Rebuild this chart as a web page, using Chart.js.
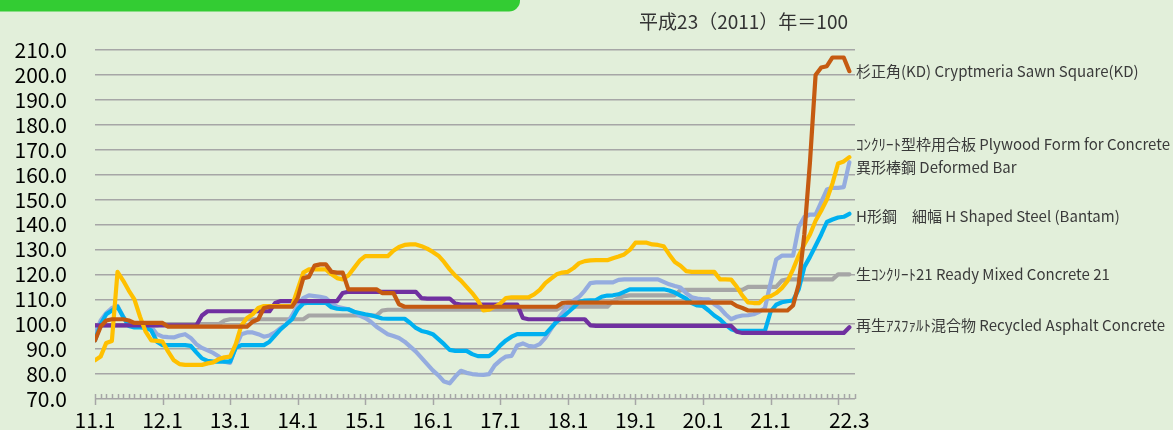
<!DOCTYPE html>
<html>
<head>
<meta charset="utf-8">
<script src="https://cdn.jsdelivr.net/npm/chart.js@4.4.0/dist/chart.umd.min.js"></script>
<style>
  html, body { margin: 0; padding: 0; background: #e2efda; }
  canvas { display: block; }
</style>
</head>
<body>
<canvas id="chart" width="1173" height="430"></canvas>
<script>
// monthly index, 2011.1 .. 2022.3 (平成23年=100)
const months = [];
for (let y = 11; y <= 22; y++) {
    for (let m = 1; m <= 12; m++) {
        if (y === 22 && m > 3) break;
        months.push(y + '.' + m);
    }
}

const tickLabels = ['11.1', '12.1', '13.1', '14.1', '15.1', '16.1', '17.1', '18.1', '19.1', '20.1', '21.1', '22.3'];

// 杉正角(KD)
const sugi = [
    93.5, 99, 101.5, 102, 102, 102, 101.5, 100.5, 100.5, 100.5, 100.5, 100.5,
    100.5, 99, 99, 99, 99, 99, 99, 99, 99, 99, 99, 99,
    99, 99, 99, 99, 101, 102, 106.5, 107, 107, 107, 107, 107,
    110.5, 118.5, 119, 123.5, 124, 124, 121, 120.7, 120.7, 114, 114, 114,
    114, 114, 114, 112.5, 112.5, 112.5, 108, 107, 107, 107, 107, 107,
    107, 107, 107, 107, 107, 107, 107, 107, 107, 107, 107, 107,
    107, 107, 107, 107, 107, 107, 107, 107, 107, 107, 107, 108.5,
    108.7, 108.7, 108.7, 108.7, 108.7, 108.7, 108.7, 108.7, 108.7, 108.7, 108.7, 108.7,
    108.7, 108.7, 108.7, 108.7, 108.7, 108.7, 108.7, 108.7, 108.7, 108.7, 108.7, 108.7,
    108.7, 108.7, 108.7, 108.7, 108.7, 108.7, 107.3, 106.5, 105.5, 105.5, 105.5, 105.5,
    105.5, 105.5, 105.5, 105.5, 107.5, 116, 136, 165, 200, 203, 203.5, 207,
    207, 207, 201.5
];

// コンクリート型枠用合板
const plywood = [
    96, 101.5, 104.5, 106.5, 107.3, 103, 99.5, 99.3, 99, 99, 99, 96,
    95, 94.8, 94.7, 95.5, 96, 94.5, 92, 90.5, 89.5, 88.5, 87, 85,
    84.5, 91, 96, 96.7, 96.7, 96, 95, 95.5, 96.7, 98.5, 100, 103.5,
    107.5, 110.5, 111.6, 111.3, 111, 110.5, 108.5, 107, 106.5, 106, 105, 103.5,
    102.5, 101, 99, 97.5, 96, 95.3, 94.5, 93, 91, 89, 86.5, 84,
    81.5, 79.5, 77, 76.3, 79, 81.3, 80.5, 80, 79.8, 79.7, 80, 83.5,
    85.5, 87, 87.3, 91.5, 92.3, 91.3, 91, 92, 94.5, 98, 101.5, 104.5,
    107.5, 109.5, 111, 113.5, 116.5, 116.8, 116.8, 116.8, 116.8, 117.8, 118, 118,
    118, 118, 118, 118, 118, 117, 116, 115.3, 114.7, 112.5, 110.8, 110.3,
    110, 110, 108, 106.5, 104, 102, 103, 103.5, 103.6, 104, 105, 106.5,
    116.5, 126, 127.5, 127.5, 127.5, 139, 143, 144, 144, 149, 154, 154.7,
    154.7, 155, 165
];

// 異形棒鋼
const rebar = [
    85.5, 87, 92.5, 93.3, 121, 117.5, 113.5, 110, 103, 97, 93.5, 93.3,
    93, 89, 85.5, 84, 83.7, 83.7, 83.7, 83.7, 84.3, 84.7, 86, 86.7,
    87, 92, 99.5, 102.5, 104, 106.5, 107.3, 107.3, 107.3, 107.3, 107.3, 107.3,
    114, 120.7, 122, 122, 122, 122, 120, 118.5, 118, 119.5, 122.5, 125.5,
    127.3, 127.3, 127.3, 127.3, 127.3, 129.5, 131, 131.8, 132, 132, 131.3, 130.3,
    129, 127.5, 125, 122, 119.5, 117.5, 115, 112.5, 109.5, 105.5, 105.8, 107,
    108.3, 110.5, 110.8, 110.8, 110.8, 110.8, 112, 113.8, 116.5, 118.3, 120, 120.7,
    121, 122.5, 124.5, 125.3, 125.6, 125.7, 125.7, 125.7, 126.5, 127.2, 128, 129.8,
    132.7, 132.7, 132.7, 132, 131.8, 131.3, 128, 125, 123.5, 121.3, 121, 121,
    121, 121, 121, 118, 118, 117.9, 115, 111.5, 108.7, 108.5, 108.5, 110.7,
    111.2, 112.5, 114.5, 117.3, 122, 127.5, 132, 136, 141.5, 145.5, 150, 156.5,
    164.5, 165.3, 167
];

// H形鋼 細幅
const hSteel = [
    93.5, 100, 104, 105.5, 107, 103, 99.3, 98.7, 98.7, 98.5, 97.5, 93,
    91.6, 91.6, 91.6, 91.6, 91.6, 91.3, 88.7, 86.3, 85.3, 85, 85, 85,
    85, 90.5, 91.6, 91.6, 91.6, 91.6, 91.6, 93, 95.5, 98, 100, 102,
    106, 108.3, 108.6, 108.6, 108.6, 108.6, 106.8, 106.2, 106, 106, 105, 104.5,
    104, 103.6, 103, 102.3, 102.2, 102.2, 102.2, 102.2, 100.5, 98.5, 97.3, 96.8,
    96, 94, 92, 89.7, 89.3, 89.3, 89.3, 88, 87.2, 87.2, 87.2, 89,
    91.5, 93.5, 95, 96, 96, 96, 96, 96, 96, 98.5, 101, 102.7,
    104.7, 106.7, 109, 109.5, 109.6, 109.7, 111, 111.5, 111.6, 112, 113, 114,
    114, 114, 114, 114, 114, 114, 113.5, 112.7, 111.5, 110.3, 108.5, 107.5,
    107.3, 105.5, 103.5, 102, 99.8, 98, 97.3, 97.3, 97.3, 97.3, 97.3, 97.3,
    105, 107.8, 108.8, 109.2, 109.5, 114, 123, 127, 131.5, 136, 141, 142,
    142.8, 143.1, 144.3
];

// 生コンクリート21
const readyMixed = [
    99.5, 99.5, 99.5, 99.5, 99.5, 99.5, 99.5, 99.5, 99.5, 99.5, 99.5, 99.5,
    100, 100, 100, 100, 100, 100, 100, 100, 100, 100, 100, 101.5,
    102, 102, 102, 102, 102, 102, 102, 102, 102, 102, 102, 102,
    102, 102, 103.5, 103.5, 103.5, 103.5, 103.5, 103.5, 103.5, 103.5, 103.5, 103.5,
    103.5, 103.5, 103.5, 105.5, 105.8, 105.8, 105.8, 105.8, 105.8, 105.8, 105.8, 105.8,
    105.8, 105.8, 105.8, 105.8, 105.8, 105.8, 105.8, 105.8, 105.8, 105.8, 105.8, 105.8,
    105.8, 105.8, 105.8, 105.8, 105.8, 105.8, 105.8, 105.8, 105.8, 105.8, 105.8, 107,
    107, 107, 107, 107, 107, 107, 107, 107, 109.3, 110.5, 111.3, 111.6,
    111.6, 111.6, 111.6, 111.6, 111.6, 111.6, 111.6, 111.6, 113.7, 113.8, 113.8, 113.8,
    113.8, 113.8, 113.8, 113.8, 113.8, 113.8, 113.8, 113.8, 115, 115, 115, 115,
    115, 115, 117.5, 118, 118, 118, 118, 118, 118, 118, 118, 118,
    120, 120, 120
];

// 再生アスファルト混合物
const asphalt = [
    99.5, 99.5, 99.5, 99.5, 99.5, 99.5, 99.5, 99.5, 99.5, 99.5, 99.5, 99.5,
    99.5, 99.5, 99.5, 99.5, 99.5, 99.5, 99.5, 103.5, 105.2, 105.2, 105.2, 105.2,
    105.2, 105.2, 105.2, 105.2, 105.2, 105.2, 105.2, 105.2, 108.5, 109.3, 109.3, 109.3,
    109.3, 109.3, 109.3, 109.3, 109.3, 109.3, 109.3, 109.3, 112.5, 113, 113, 113,
    113, 113, 113, 113, 113, 113, 113, 113, 113, 113, 110.5, 110.3,
    110.3, 110.3, 110.3, 110.3, 108.3, 107.9, 107.9, 107.9, 107.9, 107.9, 107.9, 107.9,
    107.9, 107.9, 107.9, 107.9, 102.5, 102, 102, 102, 102, 102, 102, 102,
    102, 102, 102, 102, 99.5, 99.3, 99.3, 99.3, 99.3, 99.3, 99.3, 99.3,
    99.3, 99.3, 99.3, 99.3, 99.3, 99.3, 99.3, 99.3, 99.3, 99.3, 99.3, 99.3,
    99.3, 99.3, 99.3, 99.3, 99.3, 99.3, 97, 96.5, 96.5, 96.5, 96.5, 96.5,
    96.5, 96.5, 96.5, 96.5, 96.5, 96.5, 96.5, 96.5, 96.5, 96.5, 96.5, 96.5,
    96.5, 96.5, 98.8
];

const seriesNames = [
    '杉正角(KD) Cryptmeria Sawn Square(KD)',
    '異形棒鋼 Deformed Bar',
    '再生ｱｽﾌｧﾙﾄ混合物 Recycled Asphalt Concrete',
    'H形鋼　細幅 H Shaped Steel (Bantam)',
    'ｺﾝｸﾘｰﾄ型枠用合板 Plywood Form for Concrete',
    '生ｺﾝｸﾘｰﾄ21 Ready Mixed Concrete 21'
];
const seriesData = [sugi, rebar, asphalt, hSteel, plywood, readyMixed];
const colors = ['#c55a11', '#ffc000', '#7030a0', '#00b0f0', '#95acdf', '#a6a6a6'];
// nudge for end labels that would overlap
const labelShift = [0, -4, 0.7, -1, 7, 0];

const FONT = '"Noto Sans CJK JP", "Noto Sans", sans-serif';
const tickMonths = tickLabels.map(t => months.indexOf(t));

const decor = {
    id: 'decor',
    beforeDraw(chart) {
        const ctx = chart.ctx;
        ctx.save();
        ctx.fillStyle = '#33cc33';
        ctx.beginPath();
        ctx.roundRect(-20, -20, 540, 31.5, 11);
        ctx.fill();
        ctx.fillStyle = '#333';
        ctx.font = '19px ' + FONT;
        ctx.textAlign = 'right';
        ctx.textBaseline = 'middle';
        ctx.fillText('平成23（2011）年＝100', 848, 22);
        ctx.restore();
    },
    beforeDatasetsDraw(chart) {
        const ctx = chart.ctx;
        const xs = chart.scales.x;
        const yb = chart.chartArea.bottom;
        ctx.save();
        ctx.strokeStyle = '#a6a6a6';
        ctx.lineWidth = 1.5;
        ctx.beginPath();
        for (let i = 0; i <= months.length; i++) {
            const px = Math.round(xs.getPixelForValue(i)) + 0.5;
            ctx.moveTo(px, yb - 5);
            ctx.lineTo(px, i % 12 === 0 ? yb + 6 : yb);
        }
        ctx.stroke();
        ctx.restore();
    },
    afterDatasetsDraw(chart) {
        const ctx = chart.ctx;
        const ys = chart.scales.y;
        const x0 = chart.chartArea.right + 1;
        ctx.save();
        ctx.fillStyle = '#3a3a3a';
        ctx.font = '15px ' + FONT;
        ctx.textAlign = 'left';
        ctx.textBaseline = 'middle';
        seriesData.forEach((d, k) => {
            const v = d[d.length - 1] + labelShift[k];
            ctx.fillText(seriesNames[k], x0, ys.getPixelForValue(v));
        });
        ctx.restore();
    }
};

new Chart(document.getElementById('chart'), {
    type: 'line',
    data: {
        datasets: seriesData.map((d, k) => ({
            label: seriesNames[k],
            data: d.map((v, i) => ({ x: i, y: v })),
            borderColor: colors[k],
            backgroundColor: colors[k],
            borderWidth: 4.2,
            pointRadius: 0,
            tension: 0,
            borderJoinStyle: 'round',
            borderCapStyle: 'round',
            fill: false
        }))
    },
    options: {
        responsive: false,
        animation: false,
        devicePixelRatio: 1,
        layout: { padding: { top: 50, right: 318, left: 0, bottom: 0 } },
        plugins: { legend: { display: false }, tooltip: { enabled: false } },
        scales: {
            x: {
                type: 'linear',
                min: 0,
                max: months.length,
                grid: { display: false, drawTicks: false },
                border: { display: false },
                afterFit(scale) { scale.height = 31; },
                afterBuildTicks(scale) {
                    scale.ticks = tickMonths.map(v => ({ value: v }));
                },
                ticks: {
                    autoSkip: false,
                    maxRotation: 0,
                    padding: 8,
                    color: '#000',
                    font: { family: FONT, size: 21 },
                    callback: (v, i) => tickLabels[i]
                }
            },
            y: {
                min: 70,
                max: 210,
                afterFit(scale) {
                    scale.width = 95;
                    scale.paddingTop = 0;
                    scale.paddingBottom = 0;
                },
                grid: { color: '#a6a6a6', lineWidth: 1.5, drawTicks: false },
                border: { display: false },
                ticks: {
                    stepSize: 10,
                    autoSkip: false,
                    padding: 28,
                    color: '#000',
                    font: { family: FONT, size: 21 },
                    callback: v => v.toFixed(1)
                }
            }
        }
    },
    plugins: [decor]
});
</script>
</body>
</html>
